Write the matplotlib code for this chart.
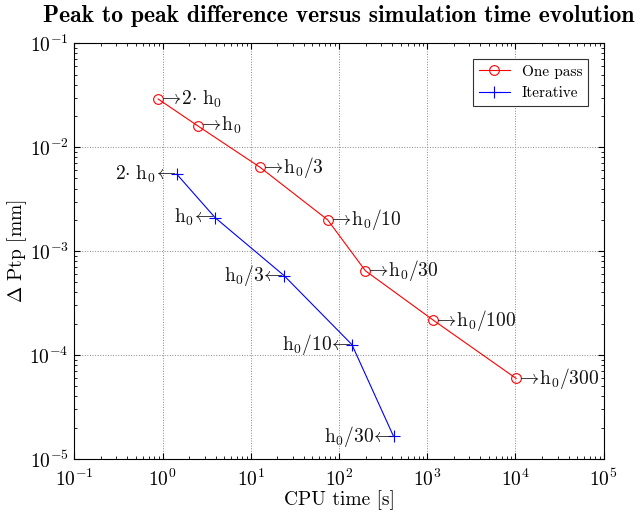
import matplotlib
matplotlib.use('Agg')
import matplotlib.pyplot as plt
from matplotlib.ticker import NullFormatter

plt.rcParams['font.family'] = 'cmr10'
plt.rcParams['mathtext.fontset'] = 'cm'
plt.rcParams['axes.formatter.use_mathtext'] = True

# values
one_pass_time = [0.89, 2.49, 12.7, 74.3, 199, 1167, 10160]
one_pass_ptp = [0.0291, 0.0161, 0.00642, 0.0020, 6.47e-4, 2.17e-4, 5.96e-5]
one_pass_labels = [r'$\rightarrow\!\mathrm{2}{\cdot}\ \mathrm{h_0}$',
                   r'$\rightarrow\!\mathrm{h_0}$',
                   r'$\rightarrow\!\mathrm{h_0/3}$',
                   r'$\rightarrow\!\mathrm{h_0/10}$',
                   r'$\rightarrow\!\mathrm{h_0/30}$',
                   r'$\rightarrow\!\mathrm{h_0/100}$',
                   r'$\rightarrow\!\mathrm{h_0/300}$']

iter_time = [1.45, 3.94, 23.8, 140, 415]
iter_ptp = [0.0055, 0.0021, 5.82e-4, 1.26e-4, 1.65e-5]
iter_labels = [r'$\mathrm{2}{\cdot}\ \mathrm{h_0}\!\leftarrow$',
               r'$\mathrm{h_0}\!\leftarrow$',
               r'$\mathrm{h_0/3}\!\leftarrow$',
               r'$\mathrm{h_0/10}\!\leftarrow$',
               r'$\mathrm{h_0/30}\!\leftarrow$']

fig = plt.figure(figsize=(6.43, 5.16), dpi=100)
ax = fig.add_axes([0.1156, 0.1105, 0.8233, 0.8056])

ax.loglog(one_pass_time, one_pass_ptp, color='red', lw=0.8, marker='o',
          mfc='none', ms=7, mew=0.8, label='One pass')
ax.loglog(iter_time, iter_ptp, color='blue', lw=0.8, marker='+',
          ms=8, mew=0.8, label='Iterative')

for x, y, s in zip(one_pass_time, one_pass_ptp, one_pass_labels):
    ax.text(x, y, s, ha='left', va='center', fontsize=14, color='#111111')
for x, y, s in zip(iter_time, iter_ptp, iter_labels):
    ax.text(x, y, s, ha='right', va='center', fontsize=14, color='#111111')

ax.set_xlim(1e-1, 1e5)
ax.set_ylim(1e-5, 1e-1)
ax.xaxis.set_minor_formatter(NullFormatter())
ax.yaxis.set_minor_formatter(NullFormatter())
ax.grid(True, which='major', ls=':', color='#888888', lw=0.7)
ax.tick_params(which='both', direction='in', top=True, right=True, labelsize=14)
ax.tick_params(which='major', length=4)
ax.tick_params(which='minor', length=2.5)
ax.tick_params(axis='x', pad=7)
ax.tick_params(axis='y', pad=4)

ax.set_xlabel('CPU time [s]', fontsize=14, labelpad=0)
ax.set_ylabel(r'$\Delta$ Ptp [mm]', fontsize=14, labelpad=0.5)
ax.set_title('Peak to peak difference versus simulation time evolution',
             fontfamily='cmb10', fontsize=17, pad=15.5)

leg = ax.legend(loc='upper right', fontsize=11, fancybox=False,
                edgecolor='#333333', framealpha=1, borderaxespad=1.0)
leg.get_frame().set_linewidth(0.8)

fig.savefig('out.png', dpi=100)
